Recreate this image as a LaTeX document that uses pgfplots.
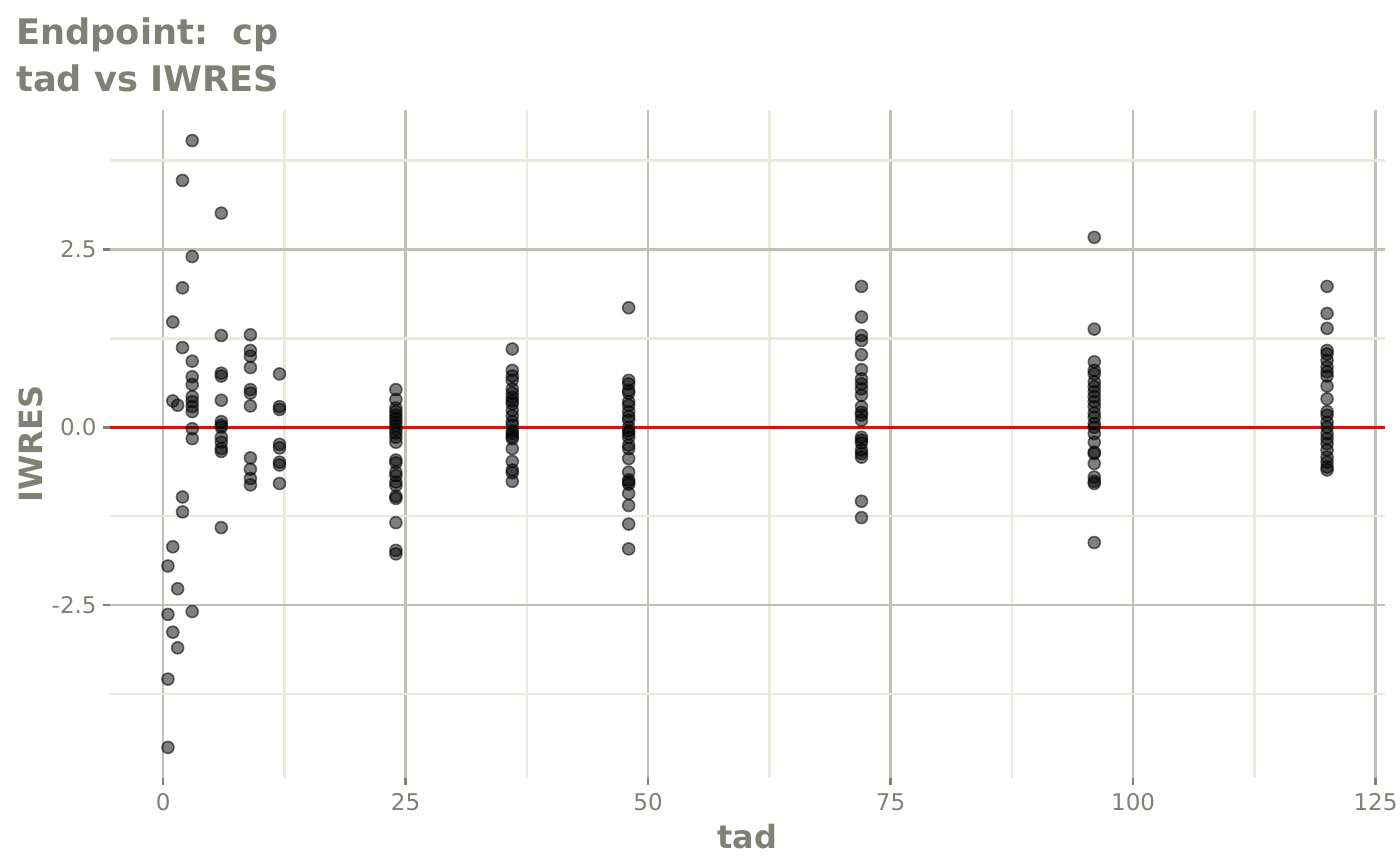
\documentclass[border=0pt]{standalone}
\usepackage{fontspec}
\setmainfont{DejaVu Sans}
\usepackage{pgfplots}
\pgfplotsset{compat=1.18}

\definecolor{labelgray}{RGB}{128,128,118}
\definecolor{gridmajor}{RGB}{192,192,180}
\definecolor{gridminor}{RGB}{233,233,222}

\begin{document}
\begin{tikzpicture}
% page frame: 700pt x 432.5pt
\path[use as bounding box] (-55pt,-43.5pt) rectangle (645pt,389pt);

\begin{axis}[
  width=637.5pt, height=334pt, scale only axis,
  xmin=-5.475, xmax=125.975,
  ymin=-4.93, ymax=4.46,
  axis line style={draw=none},
  xtick pos=lower, ytick pos=left,
  xtick={0,25,50,75,100,125},
  xticklabels={0,25,50,75,100,125},
  ytick={-2.5,0,2.5},
  yticklabels={-2.5,0.0,2.5},
  minor xtick={12.5,37.5,62.5,87.5,112.5},
  minor ytick={-3.75,-1.25,1.25,3.75},
  grid=both,
  major grid style={gridmajor, line width=1.3pt},
  minor grid style={gridminor, line width=1.3pt},
  tick align=outside,
  major tick length=3.5pt,
  minor tick length=0pt,
  major tick style={labelgray, line width=1.3pt},
  tick label style={font=\fontsize{11.5}{13}\selectfont, text=labelgray, inner sep=0pt},
  xticklabel style={anchor=north, yshift=-4pt},
  yticklabel style={anchor=east, xshift=-3pt},
  xlabel={tad},
  ylabel={IWRES},
  label style={font=\bfseries\fontsize{16}{19}\selectfont, text=labelgray, inner sep=0pt},
  xlabel style={at={(axis description cs:0.5,-0.1048)}, anchor=base},
  ylabel style={at={(axis description cs:-0.0533,0.5)}, anchor=base, rotate=0},
]

% IWRES by time after dose
\addplot[only marks, mark=*, mark size=3pt,
  mark options={fill=black, draw=black, fill opacity=0.5, draw opacity=0.55, line width=0.8pt}]
table {
  tad  iwres
  0.5  -1.95
  0.5  -2.63
  0.5  -3.54
  0.5  -4.50
  1     1.48
  1     0.37
  1    -1.68
  1    -2.88
  1.5   0.31
  1.5  -2.27
  1.5  -3.10
  2     3.47
  2     1.96
  2     1.12
  2    -0.98
  2    -1.19
  3     4.03
  3     2.40
  3     0.93
  3     0.71
  3     0.60
  3     0.43
  3     0.36
  3     0.29
  3     0.22
  3    -0.02
  3    -0.16
  3    -2.59
  6     3.01
  6     1.29
  6     0.76
  6     0.72
  6     0.38
  6     0.08
  6     0.03
  6     0.00
  6    -0.14
  6    -0.21
  6    -0.30
  6    -0.34
  6    -1.41
  9     1.30
  9     1.08
  9     1.00
  9     0.84
  9     0.53
  9     0.48
  9     0.30
  9    -0.43
  9    -0.59
  9    -0.72
  9    -0.81
  12    0.75
  12    0.29
  12    0.25
  12   -0.24
  12   -0.29
  12   -0.49
  12   -0.53
  12   -0.79
  24    0.53
  24    0.39
  24    0.27
  24    0.22
  24    0.17
  24    0.12
  24    0.07
  24    0.02
  24   -0.03
  24   -0.08
  24   -0.14
  24   -0.21
  24   -0.46
  24   -0.50
  24   -0.63
  24   -0.68
  24   -0.77
  24   -0.82
  24   -0.97
  24   -1.00
  24   -1.34
  24   -1.73
  24   -1.78
  36    1.10
  36    0.80
  36    0.72
  36    0.66
  36    0.54
  36    0.48
  36    0.42
  36    0.37
  36    0.33
  36    0.24
  36    0.16
  36    0.08
  36    0.03
  36   -0.05
  36   -0.09
  36   -0.13
  36   -0.16
  36   -0.30
  36   -0.48
  36   -0.60
  36   -0.64
  36   -0.76
  48    1.68
  48    0.66
  48    0.61
  48    0.52
  48    0.48
  48    0.36
  48    0.31
  48    0.22
  48    0.15
  48    0.10
  48    0.00
  48   -0.05
  48   -0.09
  48   -0.14
  48   -0.25
  48   -0.30
  48   -0.44
  48   -0.63
  48   -0.74
  48   -0.77
  48   -0.80
  48   -0.93
  48   -1.10
  48   -1.36
  48   -1.71
  72    1.98
  72    1.55
  72    1.29
  72    1.22
  72    1.02
  72    0.81
  72    0.68
  72    0.61
  72    0.54
  72    0.45
  72    0.29
  72    0.21
  72    0.17
  72    0.10
  72   -0.14
  72   -0.18
  72   -0.22
  72   -0.32
  72   -0.37
  72   -0.42
  72   -1.04
  72   -1.27
  96    2.67
  96    1.38
  96    0.92
  96    0.80
  96    0.75
  96    0.64
  96    0.57
  96    0.50
  96    0.43
  96    0.36
  96    0.29
  96    0.20
  96    0.14
  96    0.05
  96    0.00
  96   -0.09
  96   -0.21
  96   -0.35
  96   -0.37
  96   -0.51
  96   -0.70
  96   -0.76
  96   -0.79
  96   -1.62
  120   1.98
  120   1.60
  120   1.39
  120   1.08
  120   1.03
  120   0.94
  120   0.85
  120   0.78
  120   0.72
  120   0.58
  120   0.40
  120   0.22
  120   0.17
  120   0.07
  120   0.00
  120  -0.09
  120  -0.16
  120  -0.23
  120  -0.32
  120  -0.42
  120  -0.49
  120  -0.56
  120  -0.60
};

% reference line at zero
\addplot[red, line width=1.4pt] coordinates {(-5.475,0) (125.975,0)};

\end{axis}

% plot title, left aligned above the panel
\node[anchor=base west, inner sep=0pt, text=labelgray,
  font=\bfseries\fontsize{17.6}{21}\selectfont] at (-47pt,366.5pt) {Endpoint:\ \ cp};
\node[anchor=base west, inner sep=0pt, text=labelgray,
  font=\bfseries\fontsize{17.6}{21}\selectfont] at (-47pt,343.2pt) {tad vs IWRES};
\end{tikzpicture}
\end{document}
